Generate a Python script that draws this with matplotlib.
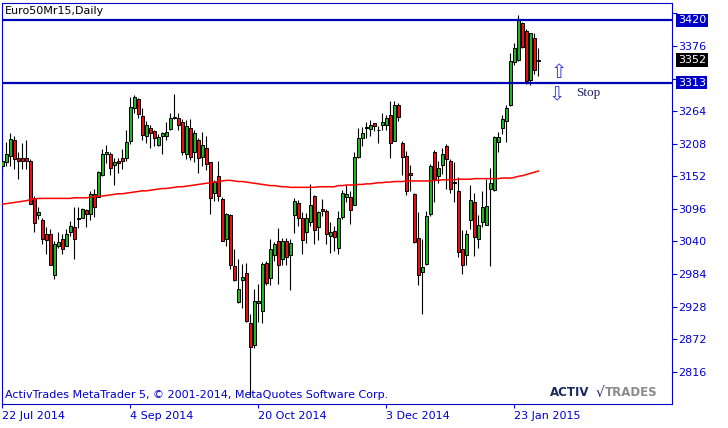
import matplotlib
matplotlib.use('Agg')
import matplotlib.pyplot as plt
import numpy as np

# Euro Stoxx 50 March 2015 future, daily bars (22 Jul 2014 .. early Feb 2015)
opens = [3170, 3176, 3187, 3214, 3183, 3184, 3184, 3178, 3114, 3086,
         3077, 3052, 3052, 2983, 3033, 3044, 3033, 3057, 3064, 3080,
         3081, 3094, 3088, 3122, 3117, 3154, 3190, 3191, 3171, 3179,
         3184, 3184, 3212, 3270, 3285, 3256, 3222, 3235, 3230, 3206,
         3222, 3221, 3234, 3254, 3252, 3245, 3191, 3235, 3194, 3215,
         3185, 3201, 3176, 3124, 3153, 3113, 3044, 3085, 2998, 2936,
         2973, 2986, 2899, 2862, 2935, 2921, 3003, 2977, 3016, 3041,
         3009, 3040, 3017, 3086, 3106, 3081, 3057, 3073, 3118, 3064,
         3096, 3093, 3050, 3058, 3028, 3082, 3117, 3116, 3103, 3185,
         3217, 3235, 3234, 3243, 3232, 3241, 3241, 3258, 3212, 3275,
         3210, 3187, 3157, 3122, 3046, 2987, 3002, 3088, 3194, 3153,
         3171, 3204, 3179, 3142, 3126, 3027, 3016, 3076, 3108, 3044,
         3073, 3068, 3131, 3128, 3211, 3235, 3247, 3274, 3348, 3352,
         3415, 3402, 3318, 3389, 3350]
highs = [3184, 3211, 3226, 3221, 3193, 3210, 3214, 3181, 3118, 3100,
         3080, 3064, 3061, 3040, 3056, 3053, 3061, 3075, 3100, 3099,
         3098, 3096, 3127, 3130, 3161, 3199, 3205, 3193, 3184, 3184,
         3199, 3231, 3289, 3291, 3287, 3270, 3247, 3241, 3231, 3225,
         3228, 3245, 3260, 3294, 3261, 3250, 3248, 3250, 3232, 3217,
         3229, 3221, 3177, 3146, 3178, 3116, 3089, 3087, 3027, 3010,
         3002, 3003, 2916, 2959, 2966, 3005, 3007, 3044, 3039, 3063,
         3046, 3046, 3044, 3114, 3111, 3091, 3089, 3138, 3120, 3093,
         3113, 3096, 3073, 3067, 3092, 3128, 3137, 3127, 3193, 3235,
         3236, 3246, 3248, 3244, 3239, 3261, 3258, 3282, 3281, 3278,
         3212, 3195, 3171, 3124, 3090, 3044, 3093, 3173, 3198, 3178,
         3201, 3207, 3181, 3176, 3150, 3059, 3059, 3137, 3124, 3085,
         3127, 3147, 3166, 3221, 3229, 3258, 3275, 3364, 3381, 3429,
         3418, 3406, 3399, 3398, 3372]
lows = [3152, 3169, 3170, 3165, 3148, 3164, 3164, 3105, 3057, 3078,
        3035, 3019, 3000, 2975, 3028, 3019, 3032, 3050, 3010, 3063,
        3080, 3064, 3076, 3082, 3117, 3153, 3174, 3154, 3137, 3157,
        3165, 3178, 3207, 3261, 3252, 3215, 3209, 3201, 3204, 3204,
        3191, 3214, 3232, 3251, 3231, 3189, 3181, 3180, 3177, 3157,
        3170, 3163, 3088, 3109, 3110, 3041, 3033, 2993, 2972, 2935,
        2925, 2902, 2772, 2856, 2902, 2899, 2965, 2965, 3006, 2967,
        3000, 3000, 2956, 3055, 3067, 3019, 3038, 3067, 3035, 3043,
        3084, 3035, 3020, 3024, 3018, 3079, 3107, 3070, 3102, 3184,
        3204, 3218, 3221, 3230, 3210, 3232, 3232, 3184, 3212, 3247,
        3154, 3120, 3127, 3038, 2965, 2915, 2999, 3084, 3107, 3141,
        3156, 3130, 3124, 3108, 3013, 2984, 2999, 3061, 3015, 3028,
        3064, 3068, 2998, 3126, 3194, 3224, 3211, 3272, 3344, 3351,
        3372, 3311, 3309, 3328, 3325]
closes = [3178, 3191, 3216, 3181, 3178, 3178, 3178, 3105, 3071, 3090,
          3045, 3043, 3000, 3036, 3039, 3027, 3052, 3066, 3045, 3078,
          3095, 3088, 3122, 3100, 3160, 3190, 3193, 3167, 3177, 3174,
          3178, 3211, 3271, 3288, 3259, 3223, 3240, 3227, 3217, 3220,
          3226, 3229, 3253, 3252, 3240, 3193, 3239, 3186, 3226, 3184,
          3205, 3173, 3114, 3142, 3118, 3041, 3087, 3000, 2973, 2959,
          2979, 2904, 2859, 2937, 2937, 3002, 2969, 3027, 3035, 3000,
          3040, 3013, 3037, 3109, 3081, 3043, 3080, 3102, 3059, 3090,
          3093, 3052, 3056, 3048, 3081, 3124, 3122, 3094, 3185, 3217,
          3227, 3237, 3241, 3238, 3231, 3246, 3253, 3210, 3275, 3254,
          3185, 3126, 3154, 3039, 2983, 2996, 3083, 3169, 3148, 3167,
          3191, 3181, 3130, 3140, 3022, 3000, 3052, 3112, 3047, 3068,
          3100, 3101, 3141, 3220, 3220, 3251, 3270, 3350, 3372, 3420,
          3374, 3316, 3398, 3335, 3352]
# moving average (red line)
ma = [3104, 3105, 3106, 3107, 3108, 3109, 3110, 3112, 3113, 3114,
      3114, 3114, 3114, 3114, 3114, 3114, 3114, 3114, 3115, 3115,
      3115, 3115, 3116, 3117, 3118, 3118, 3119, 3120, 3121, 3122,
      3122, 3123, 3124, 3125, 3126, 3127, 3127, 3128, 3129, 3130,
      3131, 3131, 3132, 3133, 3134, 3134, 3135, 3136, 3137, 3138,
      3139, 3140, 3141, 3142, 3143, 3144, 3145, 3145, 3144, 3143,
      3143, 3142, 3141, 3140, 3139, 3138, 3137, 3136, 3136, 3135,
      3134, 3134, 3133, 3133, 3133, 3133, 3133, 3133, 3133, 3134,
      3134, 3134, 3134, 3134, 3136, 3136, 3137, 3137, 3137, 3138,
      3138, 3139, 3139, 3140, 3141, 3141, 3142, 3142, 3143, 3143,
      3143, 3144, 3144, 3144, 3144, 3144, 3144, 3144, 3145, 3145,
      3146, 3146, 3146, 3146, 3147, 3147, 3147, 3147, 3148, 3148,
      3148, 3148, 3148, 3148, 3148, 3149, 3149, 3149, 3150, 3152,
      3153, 3155, 3157, 3159, 3161]

date_pos = [0, 32, 64, 96, 128]
date_labels = ['22 Jul 2014', '4 Sep 2014', '20 Oct 2014', '3 Dec 2014', '23 Jan 2015']
price_ticks = [2816, 2872, 2928, 2984, 3040, 3096, 3152, 3208, 3264, 3320, 3376, 3432]
levels = [3420, 3313]
last_price = 3352

BLUE = '#0000c8'

fig = plt.figure(figsize=(7.28, 4.28), dpi=100)
ax = fig.add_axes([2 / 728, 24 / 428, 670 / 728, 401.5 / 428])

x = np.arange(len(opens))
o = np.array(opens)
c = np.array(closes)
body_col = np.where(c >= o, '#22b422', '#e81010')

ax.vlines(x, lows, highs, color='black', lw=0.8, zorder=2)
ax.bar(x, np.abs(c - o), bottom=np.minimum(o, c), width=0.6, color=body_col,
       edgecolor='black', linewidth=0.7, zorder=3)
ax.plot(x, ma, color='red', lw=1.1, zorder=4)
for lv in levels:
    ax.axhline(lv, color='#0000b4', lw=1.6, zorder=5)

ax.set_xlim(-0.075, 167.4)
ax.set_ylim(2760.5, 3450.8)

for s in ax.spines.values():
    s.set_color(BLUE)
    s.set_linewidth(0.8)

ax.yaxis.tick_right()
ax.set_yticks(price_ticks)
# labels at 3320 and 3432 sit under the price boxes
ax.set_yticklabels(['' if t in (3320, 3432) else str(t) for t in price_ticks])
ax.tick_params(axis='y', direction='out', length=3.5, width=0.8, colors=BLUE,
               labelsize=8, pad=1)
ax.set_xticks(date_pos)
ax.set_xticklabels(date_labels, ha='left')
ax.tick_params(axis='x', direction='out', length=3, width=0.8, colors=BLUE,
               labelsize=8, pad=2)

# price boxes on the right scale
trans = ax.get_yaxis_transform()
for val, fc in [(levels[0], BLUE), (last_price, 'black'), (levels[1], BLUE)]:
    ax.text(1.0087, val, str(val), transform=trans, ha='left', va='center',
            color='white', fontsize=8, zorder=10,
            bbox=dict(boxstyle='square,pad=0.15', fc=fc, ec='none'))

# arrows and label
ax.text(139.2, 3330, '\u21e7', ha='center', va='center', fontsize=14, color='#3a3ae0', zorder=6)
ax.text(138.7, 3292, '\u21e9', ha='center', va='center', fontsize=14, color='#3a3ae0', zorder=6)
ax.text(143.4, 3295, 'Stop', ha='left', va='center', fontsize=9.5,
        family='Liberation Serif', color='#202060', zorder=6)

fig.text(5 / 728, 1 - 11 / 428, 'Euro50Mr15,Daily', ha='left', va='center',
         fontsize=8, color='black')
fig.text(5 / 728, 1 - 395 / 428,
         'ActivTrades MetaTrader 5, \u00a9 2001-2014, MetaQuotes Software Corp.',
         ha='left', va='center', fontsize=8, color=BLUE)
fig.text(550 / 728, 1 - 393 / 428, 'ACTIV', ha='left', va='center', fontsize=8.5,
         fontweight='bold', color='#1a2a5a')
fig.text(596 / 728, 1 - 393 / 428, '\u221a', ha='left', va='center', fontsize=10,
         color='#1a2a5a')
fig.text(605 / 728, 1 - 393 / 428, 'TRADES', ha='left', va='center', fontsize=8.5,
         fontweight='bold', color='#8a8a8a')

fig.savefig('out.png', dpi=100)
